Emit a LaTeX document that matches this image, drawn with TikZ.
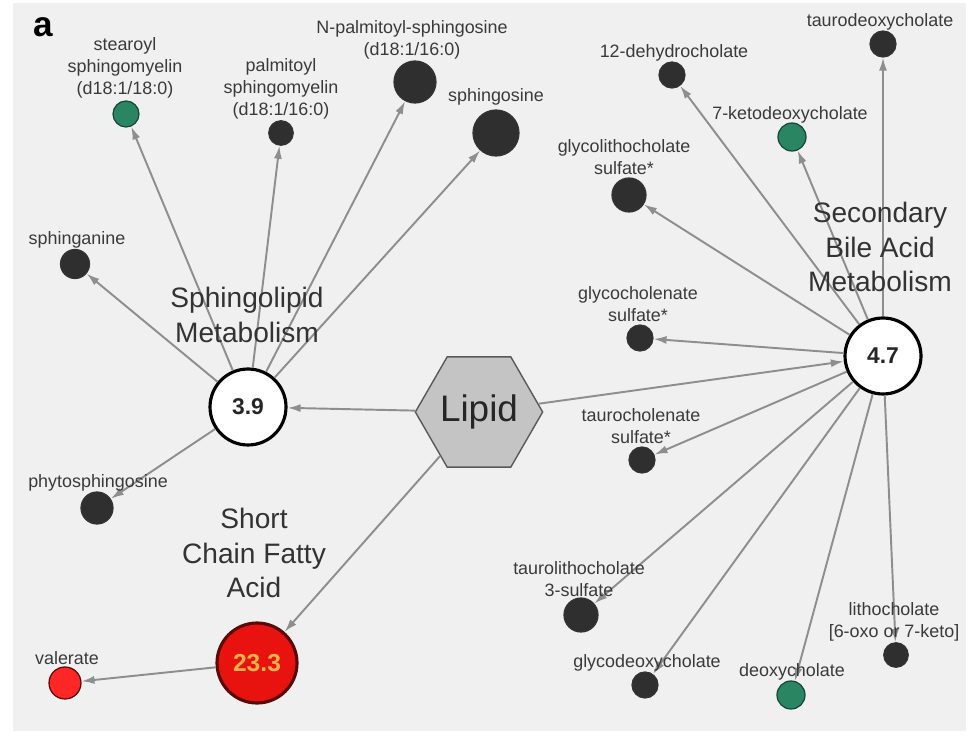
\documentclass[tikz,border=0pt]{standalone}
\usepackage{fontspec}
\setmainfont{Liberation Sans}
\usetikzlibrary{arrows.meta,shapes.geometric}

\definecolor{panelbg}{HTML}{F0F0F0}
\definecolor{edgegray}{HTML}{8E8E8E}
\definecolor{metdark}{HTML}{2F2F2F}
\definecolor{metgreen}{HTML}{2A8563}
\definecolor{greenrim}{HTML}{16463A}
\definecolor{metred}{HTML}{E8130F}
\definecolor{redrim}{HTML}{5A0A08}
\definecolor{txtgray}{HTML}{3A3A3A}
\definecolor{hexfill}{HTML}{C4C4C4}
\definecolor{valtxt}{HTML}{F4B24A}

\begin{document}
\begin{tikzpicture}[x=0.02cm,y=-0.02cm]
\tikzset{
  metnode/.style={circle,draw=black!80,line width=0.7pt,fill=metdark,inner sep=0pt},
  greennode/.style={metnode,fill=metgreen,draw=greenrim},
  rednode/.style={metnode,fill=metred,draw=redrim},
  pathnode/.style={circle,draw=black,line width=1.8pt,fill=white,inner sep=0pt,minimum size=15.2mm,font=\fontsize{13}{15}\selectfont\bfseries,text=black!85},
  hexnode/.style={regular polygon,regular polygon sides=6,draw=gray!70!black,line width=0.8pt,fill=hexfill,inner sep=0pt,minimum size=22.4mm,font=\fontsize{21}{24}\selectfont,text=black!85},
  metlabel/.style={align=center,inner sep=0pt,text=txtgray,font=\fontsize{10.2}{12.6}\selectfont},
  pathlabel/.style={align=center,inner sep=0pt,text=black!80,font=\fontsize{16}{19.8}\selectfont},
  directed/.style={draw=edgegray,line width=1.1pt,-{Latex[length=2.6mm,width=1.6mm]}}
}
\useasboundingbox (0,0) rectangle (976,742);
\fill[panelbg] (13,3) rectangle (966,731);
\node[font=\fontsize{20}{22}\selectfont\bfseries] (n_panel) at (43,27) {a};
% hub nodes
\node[hexnode] (n_lipid) at (479,412) {Lipid};
\node[pathnode] (n_sphingo) at (248,407) {3.9};
\node[pathnode] (n_bile) at (883,356) {4.7};
\node[pathnode,fill=metred,draw=redrim,minimum size=16mm,text=valtxt,font=\fontsize{14}{16}\selectfont\bfseries] (n_scfa) at (257,663) {23.3};
% sphingolipid metabolites
\node[greennode,minimum size=5.2mm] (n_stearoyl) at (126,114) {};
\node[metnode,minimum size=4.9mm] (n_palmitoyl) at (281,133) {};
\node[metnode,minimum size=8.4mm] (n_npalm) at (415,82) {};
\node[metnode,minimum size=9.2mm] (n_sphingosine) at (496,133) {};
\node[metnode,minimum size=5.8mm] (n_sphinganine) at (75,264) {};
\node[metnode,minimum size=6.4mm] (n_phyto) at (97,508) {};
% short chain fatty acid
\node[rednode,minimum size=6.4mm,fill=red!85!white] (n_valerate) at (65,683) {};
% secondary bile acids
\node[metnode,minimum size=5.2mm] (n_tdc) at (883,44) {};
\node[metnode,minimum size=5.2mm] (n_dehydro) at (672,75) {};
\node[greennode,minimum size=5.6mm] (n_ketodc) at (792,137) {};
\node[metnode,minimum size=6.8mm] (n_glcs) at (629,195) {};
\node[metnode,minimum size=5.2mm] (n_gcs) at (640,338) {};
\node[metnode,minimum size=5.2mm] (n_tcs) at (642,460) {};
\node[metnode,minimum size=6.8mm] (n_tlcs) at (581,615) {};
\node[metnode,minimum size=5.2mm] (n_gdc) at (645,685) {};
\node[greennode,minimum size=5.6mm] (n_dc) at (791,695) {};
\node[metnode,minimum size=4.9mm] (n_lco) at (896,655) {};
% edges
\draw[directed] (n_lipid) -- (n_sphingo);
\draw[directed] (n_lipid) -- (n_bile);
\draw[directed] (n_lipid) -- (n_scfa);
\draw[directed] (n_sphingo) -- (n_stearoyl);
\draw[directed] (n_sphingo) -- (n_palmitoyl);
\draw[directed] (n_sphingo) -- (n_npalm);
\draw[directed] (n_sphingo) -- (n_sphingosine);
\draw[directed] (n_sphingo) -- (n_sphinganine);
\draw[directed] (n_sphingo) -- (n_phyto);
\draw[directed] (n_scfa) -- (n_valerate);
\draw[directed] (n_bile) -- (n_tdc);
\draw[directed] (n_bile) -- (n_dehydro);
\draw[directed] (n_bile) -- (n_ketodc);
\draw[directed] (n_bile) -- (n_glcs);
\draw[directed] (n_bile) -- (n_gcs);
\draw[directed] (n_bile) -- (n_tcs);
\draw[directed] (n_bile) -- (n_tlcs);
\draw[directed] (n_bile) -- (n_gdc);
\draw[directed] (n_bile) -- (n_dc);
\draw[directed] (n_bile) -- (n_lco);
% labels
\node[pathlabel] (t_sphingo) at (247,315) {Sphingolipid\\Metabolism};
\node[pathlabel] (t_scfa) at (254,553) {Short\\Chain Fatty\\Acid};
\node[pathlabel] (t_bile) at (880,247) {Secondary\\Bile Acid\\Metabolism};
\node[metlabel] (t_stearoyl) at (125,68) {stearoyl\\sphingomyelin\\(d18:1/18:0)};
\node[metlabel] (t_palmitoyl) at (281,89) {palmitoyl\\sphingomyelin\\(d18:1/16:0)};
\node[metlabel] (t_npalm) at (412,40) {N-palmitoyl-sphingosine\\(d18:1/16:0)};
\node[metlabel] (t_sphingosine) at (496,97) {sphingosine};
\node[metlabel] (t_sphinganine) at (77,240) {sphinganine};
\node[metlabel] (t_phyto) at (98,483) {phytosphingosine};
\node[metlabel] (t_valerate) at (67,658) {valerate};
\node[metlabel] (t_tdc) at (880,22) {taurodeoxycholate};
\node[metlabel] (t_dehydro) at (674,53) {12-dehydrocholate};
\node[metlabel] (t_ketodc) at (790,115) {7-ketodeoxycholate};
\node[metlabel] (t_glcs) at (624,157) {glycolithocholate\\sulfate*};
\node[metlabel] (t_gcs) at (638,304) {glycocholenate\\sulfate*};
\node[metlabel] (t_tcs) at (641,426) {taurocholenate\\sulfate*};
\node[metlabel] (t_tlcs) at (579,579) {taurolithocholate\\3-sulfate};
\node[metlabel] (t_gdc) at (647,663) {glycodeoxycholate};
\node[metlabel] (t_dc) at (792,672) {deoxycholate};
\node[metlabel] (t_lco) at (894,622) {lithocholate\\{[6-oxo or 7-keto]}};
\end{tikzpicture}
\end{document}
